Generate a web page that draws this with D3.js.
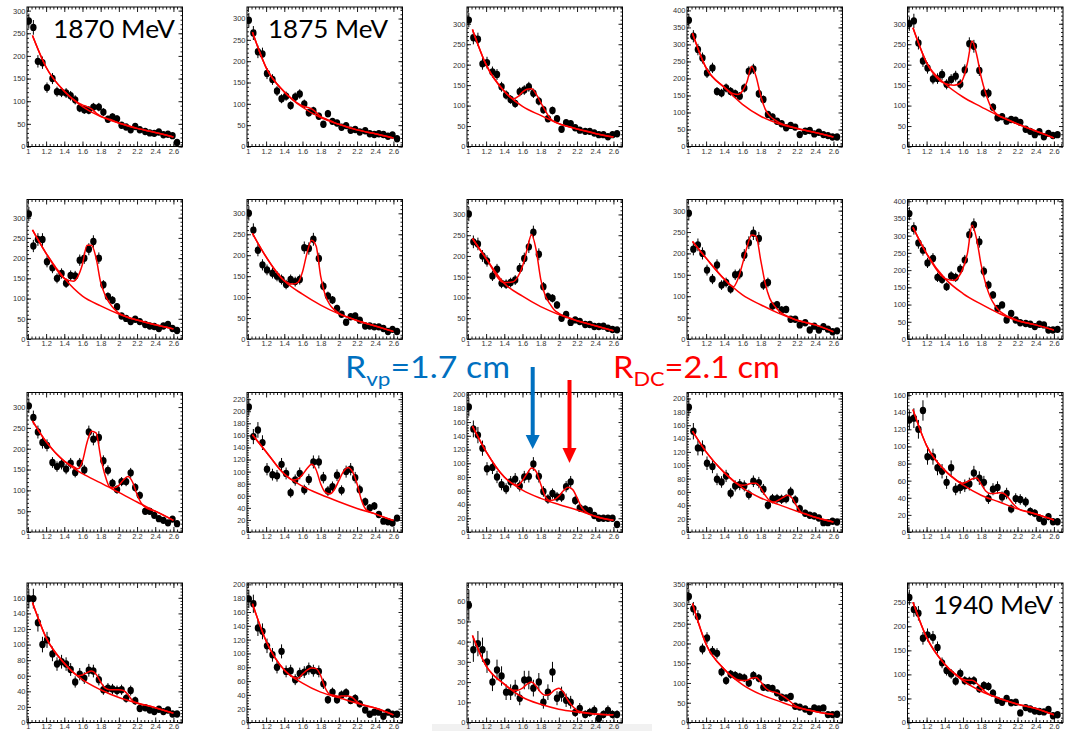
<!DOCTYPE html>
<html>
<head>
<meta charset="utf-8">
<script src="https://cdn.jsdelivr.net/npm/d3@7"></script>
<style>
body { margin: 0; background: #fff; }
svg text { font-family: "Liberation Sans", Arial, sans-serif; }
</style>
</head>
<body>
<div id="chart"></div>
<script>
// bin centres (GeV) shared by every panel
var xBins = [1.01,1.06,1.11,1.16,1.21,1.27,1.32,1.37,1.42,1.47,1.52,1.57,1.62,1.67,1.72,1.78,1.83,1.88,1.93,1.98,2.03,2.08,2.13,2.18,2.23,2.29,2.34,2.39,2.44,2.49,2.54,2.59,2.64];
var xRange = [0.99, 2.70];
var xMajor = [1, 1.2, 1.4, 1.6, 1.8, 2, 2.2, 2.4, 2.6];
var xTickLabels = ["1", "1.2", "1.4", "1.6", "1.8", "2", "2.2", "2.4", "2.6"];

// y axis range and label step, one per panel
var yMax  = [308, 327, 341, 410, 341, 345, 333, 336, 326, 405, 335, 231, 203, 209, 163, 179, 202, 69, 353, 290];
var yStep = [50, 50, 50, 50, 50, 50, 50, 50, 50, 50, 50, 20, 20, 20, 20, 20, 20, 10, 50, 50];

// counts per bin, panel by panel (row by row)
var counts = [
  [277,263,188,185,130,150,121,120,118,112,103,85,81,80,87,87,76,60,65,61,47,43,37,44,37,33,30,29,32,26,27,24,9],
  [296,266,222,217,171,157,130,112,118,96,116,123,100,79,84,71,52,77,59,55,45,49,38,40,34,37,30,28,30,28,24,27,18],
  [309,266,262,202,205,182,176,146,126,115,105,134,138,146,130,111,90,68,88,68,42,58,56,46,40,37,37,33,29,29,24,29,31],
  [371,324,285,260,216,231,162,157,172,162,155,148,172,221,228,155,138,94,87,74,67,55,62,57,35,45,47,37,42,35,32,28,28],
  [300,307,253,209,192,165,166,176,152,164,172,152,187,251,245,186,131,130,96,70,73,62,66,64,59,42,37,29,36,24,32,27,29],
  [309,230,246,246,191,176,150,162,138,157,156,195,200,222,241,200,134,105,96,80,57,51,43,49,43,36,32,31,26,32,36,26,21],
  [300,260,212,177,165,157,150,142,130,142,137,142,218,216,238,192,126,103,93,73,59,40,53,55,45,31,31,29,29,25,18,23,18],
  [301,234,229,200,188,152,168,134,132,136,142,170,194,222,257,204,126,102,98,82,50,59,40,46,42,35,35,30,30,31,26,23,22],
  [294,210,220,200,161,140,173,126,132,117,150,152,196,225,247,235,126,132,77,80,68,69,46,46,33,38,21,30,21,29,23,17,19],
  [364,321,279,258,221,234,179,173,152,183,179,203,229,303,332,282,197,157,128,89,99,55,74,55,47,45,43,36,43,41,26,26,28],
  [303,275,240,215,208,167,157,163,151,165,143,165,149,240,223,227,171,148,117,102,121,121,142,107,88,50,50,40,32,28,22,31,20],
  [207,158,169,148,104,95,93,112,97,65,86,97,70,87,116,116,90,68,75,94,69,100,104,90,70,50,40,43,29,18,17,15,23],
  [182,150,141,122,92,94,80,69,63,73,77,67,80,81,99,81,59,48,56,51,51,66,73,46,35,33,31,24,20,20,20,20,11],
  [187,151,126,126,103,98,79,75,84,58,69,71,69,56,76,74,64,40,50,50,49,50,60,48,35,28,25,24,21,14,14,16,15],
  [131,133,120,142,88,88,75,71,58,75,50,52,54,56,69,63,58,39,50,52,41,45,27,39,38,35,24,22,16,12,18,12,12],
  [159,159,128,100,106,88,75,78,75,68,52,62,57,67,66,55,42,44,43,41,42,31,41,28,18,19,16,14,17,14,16,11,11],
  [179,172,137,132,111,98,80,103,74,75,62,71,73,78,75,74,56,33,44,33,40,43,32,35,27,18,12,15,15,9,15,12,12],
  [58,36,39,36,30,20,26,23,15,15,17,12,21,21,17,20,10,15,25,12,14,11,10,5,7,4,5,6,2,4,6,4,4],
  [319,288,268,186,214,180,175,128,106,122,119,115,113,100,119,112,89,88,86,75,64,62,66,41,39,34,28,37,34,37,20,20,21],
  [260,235,227,175,182,177,156,124,108,101,86,102,87,86,87,70,77,75,61,46,42,50,41,42,20,31,28,24,23,22,27,14,16]
];

// background fit, read at bgX
var bgX = [1.05, 1.2, 1.4, 1.6, 1.8, 2.0, 2.2, 2.4, 2.6];
var bgFit = [
  [245,175,122,88,66,52,40,31,21],
  [268,185,128,92,68,52,39,30,20],
  [286,200,135,98,76,56,43,32,23],
  [333,231,174,124,89,67,53,41,28],
  [290,205,154,121,97,74,55,38,21],
  [270,212,150,106,82,62,47,35,25],
  [252,196,139,107,81,60,44,31,18],
  [242,194,134,103,78,59,44,32,20],
  [228,189,140,103,80,60,44,33,17],
  [324,248,176,132,101,74,53,41,26],
  [267,217,170,140,118,95,72,50,28],
  [161,133,96,76,62,50,39,30,19],
  [154,117,80,61,49,40,32,23,17],
  [151,120,89,66,51,41,31,22,15],
  [143,101,72,55,43,35,27,21,14],
  [154,109,76,55,42,32,25,19,12],
  [172,118,76,57,44,36,28,21,11],
  [43,28,19,12.5,9,6.6,5.2,4.2,3.8],
  [301,198,135,96,71,54,38,28,20],
  [250,177,121,87,65,50,38,29,16]
];

// total fit (background + resonances), read at fitX
var fitX = [1.05,1.2,1.4,1.5,1.55,1.6,1.65,1.7,1.75,1.8,1.85,1.9,1.95,2.0,2.05,2.1,2.15,2.2,2.25,2.3,2.4,2.6];
var totalFit = [
  [245,175,122,104,97,92,88,83,74,67,63,60,56,52,49,46,43,40,38,35.5,31,21],
  [268,185,128,109,101,95,92,88,80,70,65,61,56,52,49,45,42,39,37,34,30,20],
  [286,200,135,117,122,133,140,141,128,108,88,70,61,56,52,49,46,43,40,38,32,23],
  [333,231,174,155,153,163,190,235,205,150,110,90,79,71,65,61,57,53,50,47,41,28],
  [290,205,154,150,152,165,205,258,225,170,130,100,84,75,70,65,60,55,51,46,38,21],
  [270,212,150,143,155,185,232,232,200,140,108,88,74,64,58,53,50,47,44,41,35,25],
  [252,196,139,131,135,160,205,236,222,150,105,82,70,62,56,52,48,44,40,37,31,18],
  [242,194,136,138,150,175,215,252,215,145,105,85,70,62,56,52,48,44,41,38,32,20],
  [228,189,140,122,140,175,215,243,240,185,130,95,78,66,58,53,48,44,41,38,33,17],
  [324,248,176,170,180,205,250,330,290,215,160,122,98,82,72,65,60,54,50,47,41,26],
  [267,217,170,157,152,170,215,242,238,180,135,108,106,112,125,133,120,90,68,58,50,28],
  [161,133,96,86,88,95,105,112,103,80,66,63,70,85,100,107,100,80,52,37,30,19],
  [154,117,80,70,68,75,85,93,88,70,52,46,47,52,60,65,62,50,36,29,23,17],
  [151,120,89,77,72,70,71,73,73,66,55,47,45,48,52,55,50,38,29,27,22,15],
  [143,101,72,63,59,57,59,62,63,56,48,45,45,46,45,40,33,28,25,24,21,14],
  [154,109,76,64,60,61,64,66,62,52,44,42,42,42,41,36,28,25,23,22,19,12],
  [172,118,76,66,64,70,76,79,78,68,50,41,39.5,38,38.5,38.5,36,30,26,24,21,11],
  [43,28,19,16,16,17,19,20,18,15,13.5,14,16,17,15,11,8,6,5.2,4.8,4.2,3.8],
  [301,198,135,115,108,106,107,112,114,103,88,80,77,73,66,58,48,40,36,33,28,20],
  [250,177,121,103,96,90,88,88,82,72,63,57,54,50,47,44,41,38,36,34,29,16]
];

var svg = d3.select("#chart").append("svg")
    .attr("width", 1075)
    .attr("height", 731);

var colLeft = [27, 247, 467, 687, 907.5],
    rowTop = [7, 199.5, 392.5, 583],
    pw = 155.5,
    ph = 139.5;

// light strip at the bottom of the slide
svg.append("rect").attr("x", 432).attr("y", 724).attr("width", 220).attr("height", 7).attr("fill", "#f1f1f1");

var line = function(x, y) {
  return d3.line()
    .x(function(d) { return x(d[0]); })
    .y(function(d) { return y(d[1]); })
    .curve(d3.curveMonotoneX);
};

counts.forEach(function(c, i) {
  var row = Math.floor(i / 5);
  var g = svg.append("g")
    .attr("transform", "translate(" + colLeft[i % 5] + "," + rowTop[row] + ")");

  var x = d3.scaleLinear().domain(xRange).range([0, pw]);
  var y = d3.scaleLinear().domain([0, yMax[i]]).range([ph, 0]);

  var xMinor = d3.range(1, 2.69, 0.04);
  var yTicks = d3.range(0, yMax[i] + 0.001, yStep[i]);
  var yMinor = d3.range(0, yMax[i] + 0.001, yStep[i] / 5);

  g.append("rect").attr("width", pw).attr("height", ph).attr("fill", "#fff");

  function clean(sel) {
    sel.select(".domain").remove();
    sel.selectAll("line").attr("stroke", "#222");
    sel.selectAll("text").attr("fill", "#333").attr("font-size", "7.5px");
  }

  // bottom (last row sits on the slide edge, so its labels hug the frame)
  g.append("g").attr("transform", "translate(0," + ph + ")")
    .call(d3.axisBottom(x).tickValues(xMajor).tickSize(-5).tickPadding(row === 3 ? 0.8 : 2)
      .tickFormat(function(d, k) { return xTickLabels[k]; }))
    .call(clean);
  g.append("g").attr("transform", "translate(0," + ph + ")")
    .call(d3.axisBottom(x).tickValues(xMinor).tickSize(-2.5).tickFormat(""))
    .call(clean);
  // top
  g.append("g")
    .call(d3.axisTop(x).tickValues(xMajor).tickSize(-5).tickFormat(""))
    .call(clean);
  g.append("g")
    .call(d3.axisTop(x).tickValues(xMinor).tickSize(-2.5).tickFormat(""))
    .call(clean);
  // left
  g.append("g")
    .call(d3.axisLeft(y).tickValues(yTicks).tickSize(-4).tickPadding(1.5).tickFormat(d3.format("d")))
    .call(clean);
  g.append("g")
    .call(d3.axisLeft(y).tickValues(yMinor).tickSize(-2).tickFormat(""))
    .call(clean);
  // right
  g.append("g").attr("transform", "translate(" + pw + ",0)")
    .call(d3.axisRight(y).tickValues(yTicks).tickSize(-4).tickFormat(""))
    .call(clean);
  g.append("g").attr("transform", "translate(" + pw + ",0)")
    .call(d3.axisRight(y).tickValues(yMinor).tickSize(-2).tickFormat(""))
    .call(clean);

  g.selectAll("text").style("font-family", "'Liberation Sans', Arial, sans-serif");

  var clipId = "clip" + i;
  g.append("clipPath").attr("id", clipId)
    .append("rect").attr("width", pw).attr("height", ph);

  var plot = g.append("g").attr("clip-path", "url(#" + clipId + ")");

  var pts = xBins.map(function(xv, j) { return [xv, c[j]]; });

  plot.selectAll(".err").data(pts).enter().append("line")
    .attr("class", "err")
    .attr("x1", function(d) { return x(d[0]); })
    .attr("x2", function(d) { return x(d[0]); })
    .attr("y1", function(d) { return y(d[1] + Math.sqrt(d[1])); })
    .attr("y2", function(d) { return y(Math.max(0, d[1] - Math.sqrt(d[1]))); })
    .attr("stroke", "#000")
    .attr("stroke-width", 1);

  plot.selectAll(".pt").data(pts).enter().append("ellipse")
    .attr("class", "pt")
    .attr("cx", function(d) { return x(d[0]); })
    .attr("cy", function(d) { return y(d[1]); })
    .attr("rx", 3.2)
    .attr("ry", 3.7)
    .attr("fill", "#000");

  plot.append("path")
    .datum(bgX.map(function(xv, j) { return [xv, bgFit[i][j]]; }))
    .attr("fill", "none")
    .attr("stroke", "#f00")
    .attr("stroke-width", 1.5)
    .attr("d", line(x, y));

  plot.append("path")
    .datum(fitX.map(function(xv, j) { return [xv, totalFit[i][j]]; }))
    .attr("fill", "none")
    .attr("stroke", "#f00")
    .attr("stroke-width", 1.5)
    .attr("d", line(x, y));

  g.append("rect").attr("width", pw).attr("height", ph)
    .attr("fill", "none").attr("stroke", "#000").attr("stroke-width", 1);
});

// energy labels
var bigFont = "Lato, 'Open Sans', sans-serif";
var energyLabels = [
  {text: "1870 MeV", x: 53, y: 38, w: 122},
  {text: "1875 MeV", x: 268, y: 38, w: 120},
  {text: "1940 MeV", x: 933, y: 614, w: 120}
];
energyLabels.forEach(function(d) {
  svg.append("text")
    .attr("x", d.x).attr("y", d.y)
    .attr("textLength", d.w).attr("lengthAdjust", "spacingAndGlyphs")
    .style("font-family", bigFont)
    .style("font-size", "25px")
    .attr("fill", "#000")
    .text(d.text);
});

// radius annotations
function radiusLabel(x0, w, sub, rest, color) {
  var t = svg.append("text").attr("x", x0).attr("y", 378)
    .attr("textLength", w).attr("lengthAdjust", "spacingAndGlyphs")
    .style("font-family", bigFont).style("font-size", "30px").attr("fill", color);
  t.append("tspan").text("R");
  t.append("tspan").attr("dy", 8).style("font-size", "20px").text(sub);
  t.append("tspan").attr("dy", -8).text(rest);
}
radiusLabel(345, 165, "vp", "=1.7 cm", "#0070c0");
radiusLabel(613, 167, "DC", "=2.1 cm", "#ff0000");

// arrows
function arrow(xa, y0, yHead, yTip, color) {
  svg.append("line").attr("x1", xa).attr("x2", xa).attr("y1", y0).attr("y2", yHead + 1)
    .attr("stroke", color).attr("stroke-width", 4);
  svg.append("path")
    .attr("d", "M" + (xa - 7) + "," + yHead + "L" + (xa + 7) + "," + yHead + "L" + xa + "," + yTip + "Z")
    .attr("fill", color);
}
arrow(532.7, 367, 435, 449, "#0070c0");
arrow(569.5, 380, 448, 463, "#ff0000");
</script>
</body>
</html>
